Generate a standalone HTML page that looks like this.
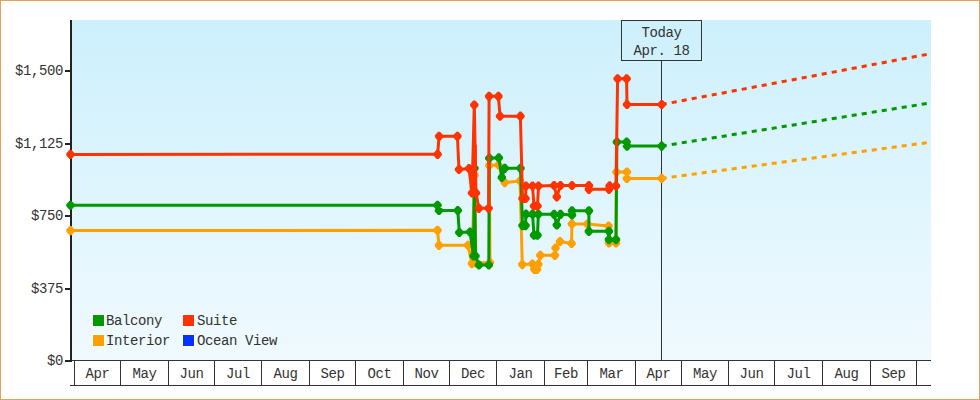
<!DOCTYPE html>
<html><head><meta charset="utf-8"><style>
html,body{margin:0;padding:0;background:#fff;}
#wrap{position:relative;width:980px;height:400px;overflow:hidden;background:#fff;}
#bd{position:absolute;left:0;top:0;width:980px;height:400px;box-sizing:border-box;border:1px solid #e9a055;}
svg{position:absolute;left:0;top:0;}
text{font-family:"Liberation Mono",monospace;font-size:14px;fill:#333;letter-spacing:-0.4px;}
</style></head><body><div id="wrap">
<svg width="980" height="400" viewBox="0 0 980 400">
<defs><linearGradient id="bg" x1="0" y1="0" x2="0" y2="1">
<stop offset="0" stop-color="#cdf0fc"/><stop offset="1" stop-color="#f0fafe"/></linearGradient></defs>
<rect x="72" y="20" width="859" height="340" fill="url(#bg)"/>
<line x1="72" y1="360.5" x2="931" y2="360.5" stroke="#333" stroke-width="1"/><line x1="70" y1="385.5" x2="931" y2="385.5" stroke="#333" stroke-width="1"/><line x1="74.5" y1="360" x2="74.5" y2="386" stroke="#333" stroke-width="1"/><line x1="120.5" y1="360" x2="120.5" y2="386" stroke="#333" stroke-width="1"/><line x1="168.5" y1="360" x2="168.5" y2="386" stroke="#333" stroke-width="1"/><line x1="214.5" y1="360" x2="214.5" y2="386" stroke="#333" stroke-width="1"/><line x1="261.5" y1="360" x2="261.5" y2="386" stroke="#333" stroke-width="1"/><line x1="309.5" y1="360" x2="309.5" y2="386" stroke="#333" stroke-width="1"/><line x1="355.5" y1="360" x2="355.5" y2="386" stroke="#333" stroke-width="1"/><line x1="403.5" y1="360" x2="403.5" y2="386" stroke="#333" stroke-width="1"/><line x1="449.5" y1="360" x2="449.5" y2="386" stroke="#333" stroke-width="1"/><line x1="496.5" y1="360" x2="496.5" y2="386" stroke="#333" stroke-width="1"/><line x1="544.5" y1="360" x2="544.5" y2="386" stroke="#333" stroke-width="1"/><line x1="587.5" y1="360" x2="587.5" y2="386" stroke="#333" stroke-width="1"/><line x1="635.5" y1="360" x2="635.5" y2="386" stroke="#333" stroke-width="1"/><line x1="681.5" y1="360" x2="681.5" y2="386" stroke="#333" stroke-width="1"/><line x1="728.5" y1="360" x2="728.5" y2="386" stroke="#333" stroke-width="1"/><line x1="774.5" y1="360" x2="774.5" y2="386" stroke="#333" stroke-width="1"/><line x1="822.5" y1="360" x2="822.5" y2="386" stroke="#333" stroke-width="1"/><line x1="870.5" y1="360" x2="870.5" y2="386" stroke="#333" stroke-width="1"/><line x1="916.5" y1="360" x2="916.5" y2="386" stroke="#333" stroke-width="1"/>
<text x="97.5" y="378" text-anchor="middle">Apr</text><text x="144.5" y="378" text-anchor="middle">May</text><text x="191.5" y="378" text-anchor="middle">Jun</text><text x="238.0" y="378" text-anchor="middle">Jul</text><text x="285.5" y="378" text-anchor="middle">Aug</text><text x="332.5" y="378" text-anchor="middle">Sep</text><text x="379.5" y="378" text-anchor="middle">Oct</text><text x="426.5" y="378" text-anchor="middle">Nov</text><text x="473.0" y="378" text-anchor="middle">Dec</text><text x="520.5" y="378" text-anchor="middle">Jan</text><text x="566.0" y="378" text-anchor="middle">Feb</text><text x="611.5" y="378" text-anchor="middle">Mar</text><text x="658.5" y="378" text-anchor="middle">Apr</text><text x="705.0" y="378" text-anchor="middle">May</text><text x="751.5" y="378" text-anchor="middle">Jun</text><text x="798.5" y="378" text-anchor="middle">Jul</text><text x="846.5" y="378" text-anchor="middle">Aug</text><text x="893.5" y="378" text-anchor="middle">Sep</text>
<line x1="661.5" y1="60" x2="661.5" y2="360" stroke="#333" stroke-width="1"/>
<rect x="621.5" y="20.5" width="80" height="40" fill="none" stroke="#333" stroke-width="1"/>
<text x="661.5" y="37" text-anchor="middle">Today</text>
<text x="661.5" y="55" text-anchor="middle">Apr. 18</text>
<line x1="71" y1="20" x2="71" y2="362" stroke="#222" stroke-width="2"/>
<line x1="65" y1="71" x2="72" y2="71" stroke="#222" stroke-width="2"/><text x="63" y="74.5" text-anchor="end">$1,500</text><line x1="65" y1="144" x2="72" y2="144" stroke="#222" stroke-width="2"/><text x="63" y="147.5" text-anchor="end">$1,125</text><line x1="65" y1="216" x2="72" y2="216" stroke="#222" stroke-width="2"/><text x="63" y="219.5" text-anchor="end">$750</text><line x1="65" y1="289" x2="72" y2="289" stroke="#222" stroke-width="2"/><text x="63" y="292.5" text-anchor="end">$375</text><line x1="65" y1="361" x2="72" y2="361" stroke="#222" stroke-width="2"/><text x="63" y="364.5" text-anchor="end">$0</text>
<g>
<rect x="92" y="314" width="13" height="13" fill="#fff"/><rect x="93" y="315" width="11" height="11" fill="#009900"/><text x="106" y="325">Balcony</text>
<rect x="182" y="314" width="13" height="13" fill="#fff"/><rect x="183" y="315" width="11" height="11" fill="#ff3300"/><text x="197" y="325">Suite</text>
<rect x="92" y="334" width="13" height="13" fill="#fff"/><rect x="93" y="335" width="11" height="11" fill="#ffa000"/><text x="106" y="345">Interior</text>
<rect x="182" y="334" width="13" height="13" fill="#fff"/><rect x="183" y="335" width="11" height="11" fill="#0033ff"/><text x="197" y="345">Ocean View</text>
</g>
<polyline fill="none" stroke="#ffa000" stroke-width="3" stroke-linejoin="round" points="70.5,230.6 437.5,230.3 439.0,245.3 468.0,245.3 471.9,263.6 474.5,175.0 476.0,263.0 490.0,262.5 489.3,165.5 498.5,165.0 504.8,182.6 520.0,181.0 522.3,264.6 532.4,264.0 534.3,269.3 537.0,269.3 538.3,264.3 540.3,255.3 554.9,255.3 555.5,248.0 560.0,241.5 571.6,243.4 571.9,223.9 587.3,224.0 608.6,226.0 609.0,243.0 616.0,243.0 616.4,172.0 626.9,172.0 626.9,178.4 661.7,178.4"/><line x1="661.7" y1="178.4" x2="930" y2="142.3" stroke="#ffa000" stroke-width="3" stroke-dasharray="5.0451 5.0451"/><path fill="#ffa000" d="M66.30 229.60L69.50 226.00L71.50 226.00L74.70 229.60L74.70 231.60L71.50 235.20L69.50 235.20L66.30 231.60ZM433.30 229.30L436.50 225.70L438.50 225.70L441.70 229.30L441.70 231.30L438.50 234.90L436.50 234.90L433.30 231.30ZM434.80 244.30L438.00 240.70L440.00 240.70L443.20 244.30L443.20 246.30L440.00 249.90L438.00 249.90L434.80 246.30ZM463.80 244.30L467.00 240.70L469.00 240.70L472.20 244.30L472.20 246.30L469.00 249.90L467.00 249.90L463.80 246.30ZM467.70 262.60L470.90 259.00L472.90 259.00L476.10 262.60L476.10 264.60L472.90 268.20L470.90 268.20L467.70 264.60ZM470.30 174.00L473.50 170.40L475.50 170.40L478.70 174.00L478.70 176.00L475.50 179.60L473.50 179.60L470.30 176.00ZM471.80 262.00L475.00 258.40L477.00 258.40L480.20 262.00L480.20 264.00L477.00 267.60L475.00 267.60L471.80 264.00ZM485.80 261.50L489.00 257.90L491.00 257.90L494.20 261.50L494.20 263.50L491.00 267.10L489.00 267.10L485.80 263.50ZM485.10 164.50L488.30 160.90L490.30 160.90L493.50 164.50L493.50 166.50L490.30 170.10L488.30 170.10L485.10 166.50ZM494.30 164.00L497.50 160.40L499.50 160.40L502.70 164.00L502.70 166.00L499.50 169.60L497.50 169.60L494.30 166.00ZM500.60 181.60L503.80 178.00L505.80 178.00L509.00 181.60L509.00 183.60L505.80 187.20L503.80 187.20L500.60 183.60ZM515.80 180.00L519.00 176.40L521.00 176.40L524.20 180.00L524.20 182.00L521.00 185.60L519.00 185.60L515.80 182.00ZM518.10 263.60L521.30 260.00L523.30 260.00L526.50 263.60L526.50 265.60L523.30 269.20L521.30 269.20L518.10 265.60ZM528.20 263.00L531.40 259.40L533.40 259.40L536.60 263.00L536.60 265.00L533.40 268.60L531.40 268.60L528.20 265.00ZM530.10 268.30L533.30 264.70L535.30 264.70L538.50 268.30L538.50 270.30L535.30 273.90L533.30 273.90L530.10 270.30ZM532.80 268.30L536.00 264.70L538.00 264.70L541.20 268.30L541.20 270.30L538.00 273.90L536.00 273.90L532.80 270.30ZM534.10 263.30L537.30 259.70L539.30 259.70L542.50 263.30L542.50 265.30L539.30 268.90L537.30 268.90L534.10 265.30ZM536.10 254.30L539.30 250.70L541.30 250.70L544.50 254.30L544.50 256.30L541.30 259.90L539.30 259.90L536.10 256.30ZM550.70 254.30L553.90 250.70L555.90 250.70L559.10 254.30L559.10 256.30L555.90 259.90L553.90 259.90L550.70 256.30ZM551.30 247.00L554.50 243.40L556.50 243.40L559.70 247.00L559.70 249.00L556.50 252.60L554.50 252.60L551.30 249.00ZM555.80 240.50L559.00 236.90L561.00 236.90L564.20 240.50L564.20 242.50L561.00 246.10L559.00 246.10L555.80 242.50ZM567.40 242.40L570.60 238.80L572.60 238.80L575.80 242.40L575.80 244.40L572.60 248.00L570.60 248.00L567.40 244.40ZM567.70 222.90L570.90 219.30L572.90 219.30L576.10 222.90L576.10 224.90L572.90 228.50L570.90 228.50L567.70 224.90ZM583.10 223.00L586.30 219.40L588.30 219.40L591.50 223.00L591.50 225.00L588.30 228.60L586.30 228.60L583.10 225.00ZM604.40 225.00L607.60 221.40L609.60 221.40L612.80 225.00L612.80 227.00L609.60 230.60L607.60 230.60L604.40 227.00ZM604.80 242.00L608.00 238.40L610.00 238.40L613.20 242.00L613.20 244.00L610.00 247.60L608.00 247.60L604.80 244.00ZM611.80 242.00L615.00 238.40L617.00 238.40L620.20 242.00L620.20 244.00L617.00 247.60L615.00 247.60L611.80 244.00ZM612.20 171.00L615.40 167.40L617.40 167.40L620.60 171.00L620.60 173.00L617.40 176.60L615.40 176.60L612.20 173.00ZM622.70 171.00L625.90 167.40L627.90 167.40L631.10 171.00L631.10 173.00L627.90 176.60L625.90 176.60L622.70 173.00ZM622.70 177.40L625.90 173.80L627.90 173.80L631.10 177.40L631.10 179.40L627.90 183.00L625.90 183.00L622.70 179.40ZM657.50 177.40L660.70 173.80L662.70 173.80L665.90 177.40L665.90 179.40L662.70 183.00L660.70 183.00L657.50 179.40Z"/>
<polyline fill="none" stroke="#009900" stroke-width="3" stroke-linejoin="round" points="70.5,205.2 437.5,205.3 439.0,210.5 457.8,210.5 459.3,232.5 470.0,232.0 473.5,256.0 474.5,168.2 475.5,256.0 479.0,265.0 488.8,265.0 489.3,158.2 498.8,157.8 501.8,177.4 504.8,168.3 520.5,168.3 522.5,225.6 525.5,225.6 526.0,214.2 532.5,214.2 534.0,235.2 537.5,235.2 538.3,214.2 554.1,214.3 556.8,225.0 560.5,214.3 572.0,215.0 572.0,210.8 588.9,210.8 588.9,231.3 608.9,231.3 608.9,239.6 616.0,239.6 616.9,142.0 626.6,142.0 627.0,146.1 661.7,146.1"/><line x1="661.7" y1="146.1" x2="930" y2="103" stroke="#009900" stroke-width="3" stroke-dasharray="5.0641 5.0641"/><path fill="#009900" d="M66.30 204.25L69.50 200.65L71.50 200.65L74.70 204.25L74.70 206.25L71.50 209.85L69.50 209.85L66.30 206.25ZM433.30 204.30L436.50 200.70L438.50 200.70L441.70 204.30L441.70 206.30L438.50 209.90L436.50 209.90L433.30 206.30ZM434.80 209.50L438.00 205.90L440.00 205.90L443.20 209.50L443.20 211.50L440.00 215.10L438.00 215.10L434.80 211.50ZM453.60 209.50L456.80 205.90L458.80 205.90L462.00 209.50L462.00 211.50L458.80 215.10L456.80 215.10L453.60 211.50ZM455.10 231.50L458.30 227.90L460.30 227.90L463.50 231.50L463.50 233.50L460.30 237.10L458.30 237.10L455.10 233.50ZM465.80 231.00L469.00 227.40L471.00 227.40L474.20 231.00L474.20 233.00L471.00 236.60L469.00 236.60L465.80 233.00ZM469.30 255.00L472.50 251.40L474.50 251.40L477.70 255.00L477.70 257.00L474.50 260.60L472.50 260.60L469.30 257.00ZM470.30 167.25L473.50 163.65L475.50 163.65L478.70 167.25L478.70 169.25L475.50 172.85L473.50 172.85L470.30 169.25ZM471.30 255.00L474.50 251.40L476.50 251.40L479.70 255.00L479.70 257.00L476.50 260.60L474.50 260.60L471.30 257.00ZM474.80 264.00L478.00 260.40L480.00 260.40L483.20 264.00L483.20 266.00L480.00 269.60L478.00 269.60L474.80 266.00ZM484.60 264.00L487.80 260.40L489.80 260.40L493.00 264.00L493.00 266.00L489.80 269.60L487.80 269.60L484.60 266.00ZM485.10 157.20L488.30 153.60L490.30 153.60L493.50 157.20L493.50 159.20L490.30 162.80L488.30 162.80L485.10 159.20ZM494.60 156.80L497.80 153.20L499.80 153.20L503.00 156.80L503.00 158.80L499.80 162.40L497.80 162.40L494.60 158.80ZM497.60 176.40L500.80 172.80L502.80 172.80L506.00 176.40L506.00 178.40L502.80 182.00L500.80 182.00L497.60 178.40ZM500.60 167.30L503.80 163.70L505.80 163.70L509.00 167.30L509.00 169.30L505.80 172.90L503.80 172.90L500.60 169.30ZM516.30 167.30L519.50 163.70L521.50 163.70L524.70 167.30L524.70 169.30L521.50 172.90L519.50 172.90L516.30 169.30ZM518.30 224.60L521.50 221.00L523.50 221.00L526.70 224.60L526.70 226.60L523.50 230.20L521.50 230.20L518.30 226.60ZM521.30 224.60L524.50 221.00L526.50 221.00L529.70 224.60L529.70 226.60L526.50 230.20L524.50 230.20L521.30 226.60ZM521.80 213.20L525.00 209.60L527.00 209.60L530.20 213.20L530.20 215.20L527.00 218.80L525.00 218.80L521.80 215.20ZM528.30 213.20L531.50 209.60L533.50 209.60L536.70 213.20L536.70 215.20L533.50 218.80L531.50 218.80L528.30 215.20ZM529.80 234.20L533.00 230.60L535.00 230.60L538.20 234.20L538.20 236.20L535.00 239.80L533.00 239.80L529.80 236.20ZM533.30 234.20L536.50 230.60L538.50 230.60L541.70 234.20L541.70 236.20L538.50 239.80L536.50 239.80L533.30 236.20ZM534.10 213.20L537.30 209.60L539.30 209.60L542.50 213.20L542.50 215.20L539.30 218.80L537.30 218.80L534.10 215.20ZM549.90 213.30L553.10 209.70L555.10 209.70L558.30 213.30L558.30 215.30L555.10 218.90L553.10 218.90L549.90 215.30ZM552.60 224.00L555.80 220.40L557.80 220.40L561.00 224.00L561.00 226.00L557.80 229.60L555.80 229.60L552.60 226.00ZM556.30 213.30L559.50 209.70L561.50 209.70L564.70 213.30L564.70 215.30L561.50 218.90L559.50 218.90L556.30 215.30ZM567.80 214.00L571.00 210.40L573.00 210.40L576.20 214.00L576.20 216.00L573.00 219.60L571.00 219.60L567.80 216.00ZM567.80 209.80L571.00 206.20L573.00 206.20L576.20 209.80L576.20 211.80L573.00 215.40L571.00 215.40L567.80 211.80ZM584.70 209.80L587.90 206.20L589.90 206.20L593.10 209.80L593.10 211.80L589.90 215.40L587.90 215.40L584.70 211.80ZM584.70 230.30L587.90 226.70L589.90 226.70L593.10 230.30L593.10 232.30L589.90 235.90L587.90 235.90L584.70 232.30ZM604.70 230.30L607.90 226.70L609.90 226.70L613.10 230.30L613.10 232.30L609.90 235.90L607.90 235.90L604.70 232.30ZM604.70 238.60L607.90 235.00L609.90 235.00L613.10 238.60L613.10 240.60L609.90 244.20L607.90 244.20L604.70 240.60ZM611.80 238.60L615.00 235.00L617.00 235.00L620.20 238.60L620.20 240.60L617.00 244.20L615.00 244.20L611.80 240.60ZM612.70 141.00L615.90 137.40L617.90 137.40L621.10 141.00L621.10 143.00L617.90 146.60L615.90 146.60L612.70 143.00ZM622.40 141.00L625.60 137.40L627.60 137.40L630.80 141.00L630.80 143.00L627.60 146.60L625.60 146.60L622.40 143.00ZM622.80 145.10L626.00 141.50L628.00 141.50L631.20 145.10L631.20 147.10L628.00 150.70L626.00 150.70L622.80 147.10ZM657.50 145.10L660.70 141.50L662.70 141.50L665.90 145.10L665.90 147.10L662.70 150.70L660.70 150.70L657.50 147.10Z"/>
<polyline fill="none" stroke="#ff3300" stroke-width="3" stroke-linejoin="round" points="70.5,154.4 437.6,154.3 439.1,136.3 457.4,136.3 459.0,169.4 469.0,168.5 472.0,193.0 474.3,105.0 476.0,193.0 478.9,208.3 488.6,208.3 489.1,96.3 498.4,96.3 500.0,116.2 520.4,116.2 522.5,198.5 525.5,198.5 526.0,186.0 532.5,186.0 534.0,206.0 537.5,206.0 538.5,186.0 554.1,185.5 556.8,196.8 560.5,185.5 572.0,185.5 588.9,185.5 588.9,189.3 609.0,189.3 609.6,185.9 616.0,185.9 617.6,78.8 626.6,78.8 627.0,104.5 661.7,104.5"/><line x1="661.7" y1="104.5" x2="930" y2="53.8" stroke="#ff3300" stroke-width="3" stroke-dasharray="5.0885 5.0885"/><path fill="#ff3300" d="M66.30 153.40L69.50 149.80L71.50 149.80L74.70 153.40L74.70 155.40L71.50 159.00L69.50 159.00L66.30 155.40ZM433.40 153.30L436.60 149.70L438.60 149.70L441.80 153.30L441.80 155.30L438.60 158.90L436.60 158.90L433.40 155.30ZM434.90 135.30L438.10 131.70L440.10 131.70L443.30 135.30L443.30 137.30L440.10 140.90L438.10 140.90L434.90 137.30ZM453.20 135.30L456.40 131.70L458.40 131.70L461.60 135.30L461.60 137.30L458.40 140.90L456.40 140.90L453.20 137.30ZM454.80 168.40L458.00 164.80L460.00 164.80L463.20 168.40L463.20 170.40L460.00 174.00L458.00 174.00L454.80 170.40ZM464.80 167.50L468.00 163.90L470.00 163.90L473.20 167.50L473.20 169.50L470.00 173.10L468.00 173.10L464.80 169.50ZM467.80 192.00L471.00 188.40L473.00 188.40L476.20 192.00L476.20 194.00L473.00 197.60L471.00 197.60L467.80 194.00ZM470.10 104.00L473.30 100.40L475.30 100.40L478.50 104.00L478.50 106.00L475.30 109.60L473.30 109.60L470.10 106.00ZM471.80 192.00L475.00 188.40L477.00 188.40L480.20 192.00L480.20 194.00L477.00 197.60L475.00 197.60L471.80 194.00ZM474.70 207.30L477.90 203.70L479.90 203.70L483.10 207.30L483.10 209.30L479.90 212.90L477.90 212.90L474.70 209.30ZM484.40 207.30L487.60 203.70L489.60 203.70L492.80 207.30L492.80 209.30L489.60 212.90L487.60 212.90L484.40 209.30ZM484.90 95.30L488.10 91.70L490.10 91.70L493.30 95.30L493.30 97.30L490.10 100.90L488.10 100.90L484.90 97.30ZM494.20 95.30L497.40 91.70L499.40 91.70L502.60 95.30L502.60 97.30L499.40 100.90L497.40 100.90L494.20 97.30ZM495.80 115.20L499.00 111.60L501.00 111.60L504.20 115.20L504.20 117.20L501.00 120.80L499.00 120.80L495.80 117.20ZM516.20 115.20L519.40 111.60L521.40 111.60L524.60 115.20L524.60 117.20L521.40 120.80L519.40 120.80L516.20 117.20ZM518.30 197.50L521.50 193.90L523.50 193.90L526.70 197.50L526.70 199.50L523.50 203.10L521.50 203.10L518.30 199.50ZM521.30 197.50L524.50 193.90L526.50 193.90L529.70 197.50L529.70 199.50L526.50 203.10L524.50 203.10L521.30 199.50ZM521.80 185.00L525.00 181.40L527.00 181.40L530.20 185.00L530.20 187.00L527.00 190.60L525.00 190.60L521.80 187.00ZM528.30 185.00L531.50 181.40L533.50 181.40L536.70 185.00L536.70 187.00L533.50 190.60L531.50 190.60L528.30 187.00ZM529.80 205.00L533.00 201.40L535.00 201.40L538.20 205.00L538.20 207.00L535.00 210.60L533.00 210.60L529.80 207.00ZM533.30 205.00L536.50 201.40L538.50 201.40L541.70 205.00L541.70 207.00L538.50 210.60L536.50 210.60L533.30 207.00ZM534.30 185.00L537.50 181.40L539.50 181.40L542.70 185.00L542.70 187.00L539.50 190.60L537.50 190.60L534.30 187.00ZM549.90 184.50L553.10 180.90L555.10 180.90L558.30 184.50L558.30 186.50L555.10 190.10L553.10 190.10L549.90 186.50ZM552.60 195.80L555.80 192.20L557.80 192.20L561.00 195.80L561.00 197.80L557.80 201.40L555.80 201.40L552.60 197.80ZM556.30 184.50L559.50 180.90L561.50 180.90L564.70 184.50L564.70 186.50L561.50 190.10L559.50 190.10L556.30 186.50ZM567.80 184.50L571.00 180.90L573.00 180.90L576.20 184.50L576.20 186.50L573.00 190.10L571.00 190.10L567.80 186.50ZM584.70 184.50L587.90 180.90L589.90 180.90L593.10 184.50L593.10 186.50L589.90 190.10L587.90 190.10L584.70 186.50ZM584.70 188.30L587.90 184.70L589.90 184.70L593.10 188.30L593.10 190.30L589.90 193.90L587.90 193.90L584.70 190.30ZM604.80 188.30L608.00 184.70L610.00 184.70L613.20 188.30L613.20 190.30L610.00 193.90L608.00 193.90L604.80 190.30ZM605.40 184.90L608.60 181.30L610.60 181.30L613.80 184.90L613.80 186.90L610.60 190.50L608.60 190.50L605.40 186.90ZM611.80 184.90L615.00 181.30L617.00 181.30L620.20 184.90L620.20 186.90L617.00 190.50L615.00 190.50L611.80 186.90ZM613.40 77.75L616.60 74.15L618.60 74.15L621.80 77.75L621.80 79.75L618.60 83.35L616.60 83.35L613.40 79.75ZM622.40 77.75L625.60 74.15L627.60 74.15L630.80 77.75L630.80 79.75L627.60 83.35L625.60 83.35L622.40 79.75ZM622.80 103.50L626.00 99.90L628.00 99.90L631.20 103.50L631.20 105.50L628.00 109.10L626.00 109.10L622.80 105.50ZM657.50 103.50L660.70 99.90L662.70 99.90L665.90 103.50L665.90 105.50L662.70 109.10L660.70 109.10L657.50 105.50Z"/>
<path fill="#ff3300" d="M472 145H476.8V193H469.8V170H472Z"/>
</svg><div id="bd"></div></div></body></html>
